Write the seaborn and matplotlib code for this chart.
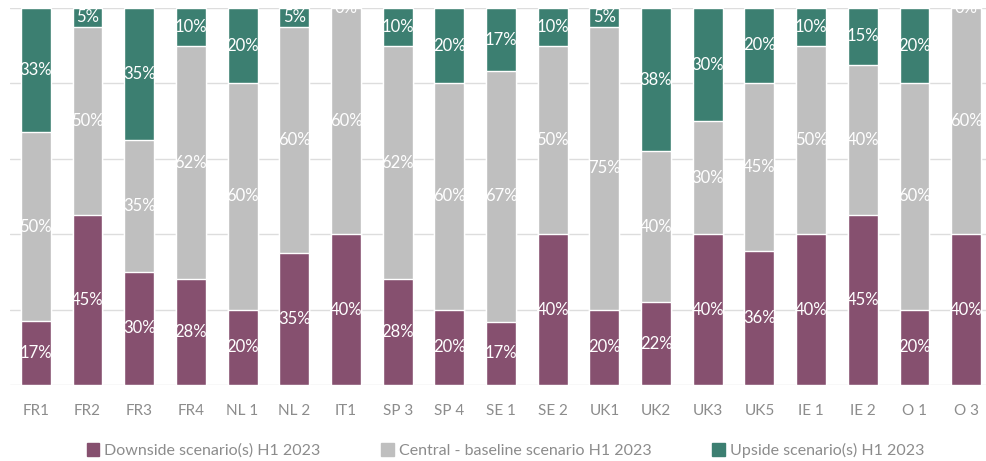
import pandas as pd
import seaborn as sns
import matplotlib.pyplot as plt

# Data (percent shares per scenario)
sites = ["FR1", "FR2", "FR3", "FR4", "NL 1", "NL 2", "IT1", "SP 3", "SP 4", "SE 1",
         "SE 2", "UK1", "UK2", "UK3", "UK5", "IE 1", "IE 2", "O 1", "O 3"]
downside = [17, 45, 30, 28, 20, 35, 40, 28, 20, 17, 40, 20, 22, 40, 36, 40, 45, 20, 40]
central = [50, 50, 35, 62, 60, 60, 60, 62, 60, 67, 50, 75, 40, 30, 45, 50, 40, 60, 60]
upside = [33, 5, 35, 10, 20, 5, 0, 10, 20, 17, 10, 5, 38, 30, 20, 10, 15, 20, 0]

series_names = ["Downside scenario(s) H1 2023",
                "Central - baseline scenario H1 2023",
                "Upside scenario(s) H1 2023"]
colors = ["#86506F", "#BFBFBF", "#3C7F71"]

df = pd.DataFrame({"site": sites, "down": downside, "central": central, "up": upside})
# normalise to 100% stacked shares
total = df["down"] + df["central"] + df["up"]
df["down_s"] = df["down"] / total * 100
df["central_s"] = df["central"] / total * 100
df["up_s"] = df["up"] / total * 100
df["cum1"] = df["down_s"]
df["cum2"] = df["down_s"] + df["central_s"]
df["cum3"] = df["cum2"] + df["up_s"]

sns.set_style("white")
plt.rcParams["font.family"] = ["Lato", "DejaVu Sans"]

fig = plt.figure(figsize=(9.87, 4.61), dpi=100)
ax = fig.add_axes([0.0101, 0.1649, 0.995, 0.8178])

# stacked bars: draw cumulative totals from the back to the front
for col, c in zip(["cum3", "cum2", "cum1"], colors[::-1]):
    sns.barplot(data=df, x="site", y=col, color=c, width=0.58,
                saturation=1, ax=ax, zorder=2)

ax.set_ylim(0, 100)
ax.set_xlim(-0.5, len(sites) - 0.5)
ax.set_yticks([0, 20, 40, 60, 80, 100])
ax.yaxis.grid(True, color="#DDDDDD", linewidth=1.0, zorder=0)
ax.set_axisbelow(True)
ax.set_yticklabels([])
ax.set_ylabel("")
ax.set_xlabel("")
ax.tick_params(axis="x", length=0, pad=14, labelsize=11, labelcolor="#8C8C8C")
ax.tick_params(axis="y", length=0)
for s in ax.spines.values():
    s.set_visible(False)

# segment labels
for i, row in df.iterrows():
    segs = [(row["down"], row["down_s"], 0),
            (row["central"], row["central_s"], row["cum1"]),
            (row["up"], row["up_s"], row["cum2"])]
    for val, h, base in segs:
        ax.text(i, base + h / 2, f"{val:.0f}%", ha="center", va="center",
                color="white", fontsize=12, clip_on=False, zorder=5)

handles = [plt.Rectangle((0, 0), 1, 1, color=c) for c in colors]
fig.legend(handles, series_names, loc="lower center", ncol=3, frameon=False,
           bbox_to_anchor=(0.512, -0.025), handlelength=0.8, handleheight=0.8,
           handletextpad=0.3, columnspacing=3.8, fontsize=11.5,
           labelcolor="#8C8C8C")

fig.savefig("out.png", dpi=100)
